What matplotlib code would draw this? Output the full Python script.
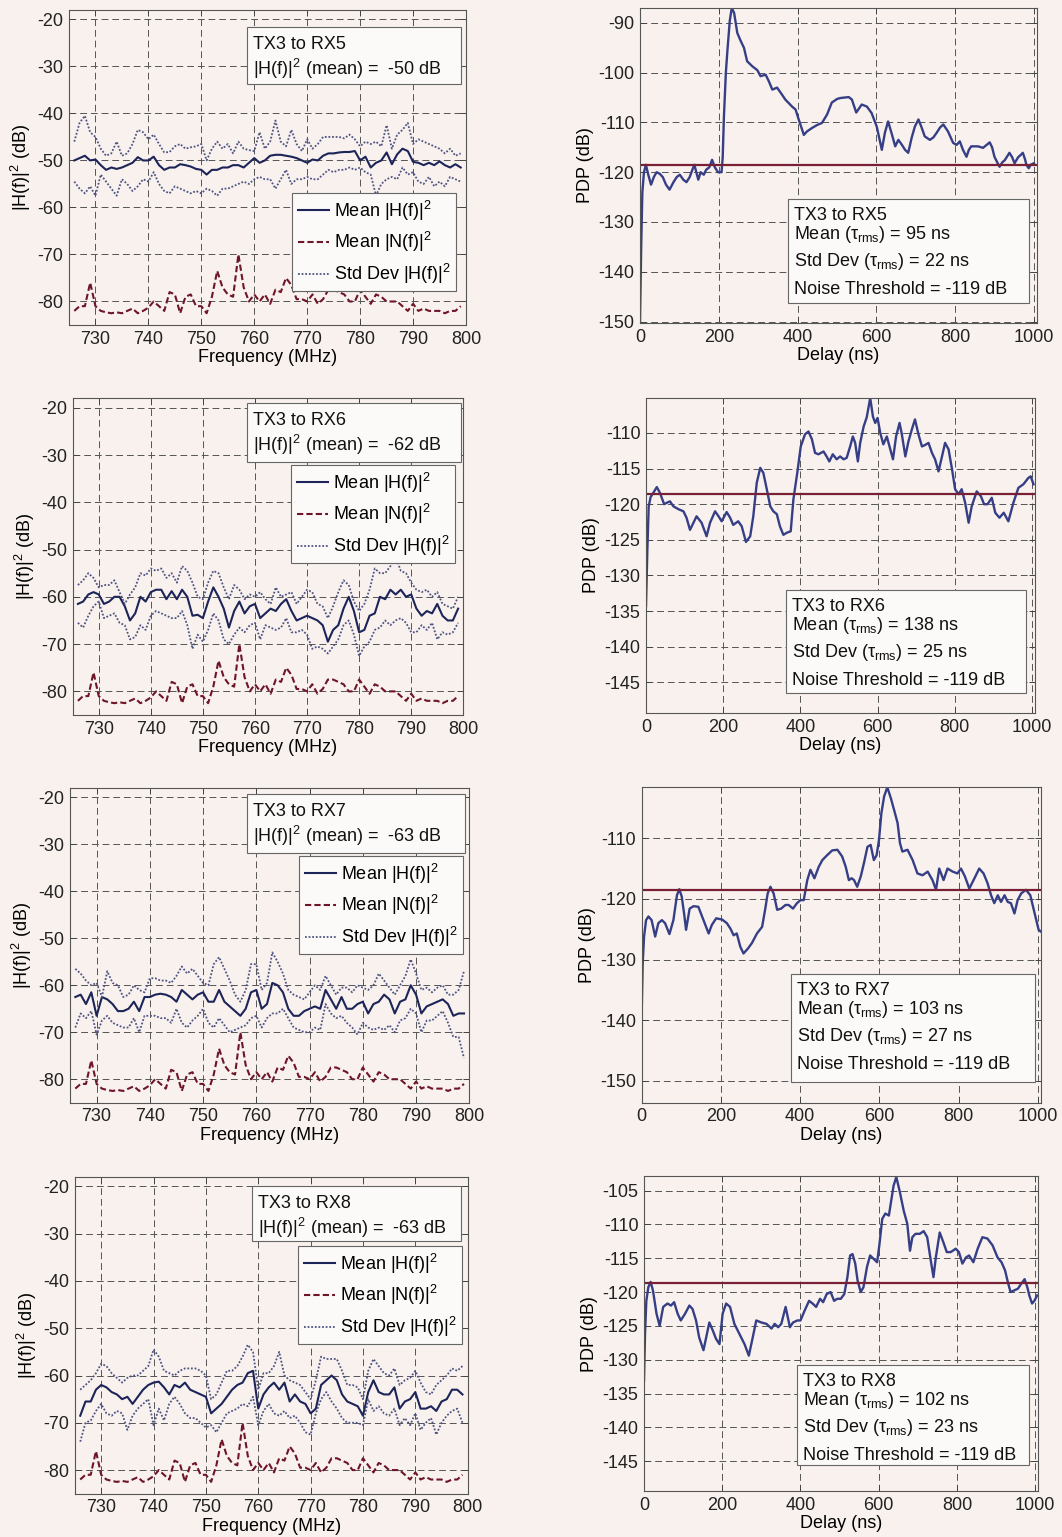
import numpy as np
import matplotlib
matplotlib.use("Agg")
import matplotlib.pyplot as plt
from matplotlib.patches import Rectangle

plt.rcParams['font.family'] = ['Liberation Sans', 'DejaVu Sans']
plt.rcParams['mathtext.fontset'] = 'custom'
plt.rcParams['mathtext.rm'] = 'Liberation Sans'
plt.rcParams['mathtext.it'] = 'Liberation Sans'
plt.rcParams['font.size'] = 13
plt.rcParams['axes.unicode_minus'] = False
plt.rcParams['lines.solid_joinstyle'] = 'round'

# ---------------- channel gain |H(f)|^2 (dB), 726..799 MHz ----------------
freq_mhz = np.arange(726, 800)

noise_db = [-82, -81, -81, -76, -81, -82, -82.3, -82.5, -82.3, -82.5,
            -82, -81.5, -82.5, -82, -81.3, -80, -81, -82, -78, -78.5,
            -82.5, -79, -78.5, -81, -81, -82.5, -79, -73.5, -77, -78.5,
            -79, -70, -77, -80, -78.5, -80, -78.5, -80.5, -77.5, -78,
            -75, -76.5, -79.5, -79.5, -80, -78.5, -80.5, -79.5, -77.5, -77.5,
            -78, -78.5, -80, -80, -77.5, -79, -80.5, -78.5, -79, -80,
            -80, -80, -81, -82, -80.5, -82, -81.5, -82, -82, -82,
            -82.5, -82, -82, -81]

rx5_mean = [-50, -49.5, -49, -50, -49.8, -51, -52, -51.5, -51.8, -51.5,
            -51, -50.5, -49.3, -50, -50, -49.2, -51, -52, -51.5, -51.5,
            -50.8, -51, -51.3, -51.8, -52, -53, -52, -52, -51.5, -51.5,
            -51, -51, -51.5, -50.5, -49.5, -50.5, -50, -49, -48.8, -48.8,
            -49, -49.2, -49.5, -50, -50.5, -49.8, -50, -49, -48.5, -48.5,
            -48.3, -48.2, -48.2, -48, -50, -49.2, -51.5, -50.5, -50, -48.3,
            -50.8, -48.7, -47.5, -48, -50.3, -50.5, -51, -50.5, -51, -50.2,
            -51, -51.5, -50.8, -51.5]
rx5_upper = [-46, -42, -40.5, -44, -45, -47.5, -49, -48.5, -46, -49,
             -48.5, -46.5, -43.5, -44, -45.5, -44.5, -46.5, -48.3, -48.2, -47,
             -46.5, -47.5, -47.2, -47, -46.5, -50, -47.5, -46, -47.5, -46.5,
             -48.5, -46, -47.5, -47.8, -48, -44, -47.5, -46, -41.5, -46,
             -47, -43.5, -46.5, -48, -45.5, -47.5, -46.5, -45, -45, -45,
             -45, -45.3, -44.5, -45.5, -47, -46, -46.5, -46, -47, -42.5,
             -47.5, -44.5, -43.5, -42, -46.5, -45.5, -46, -46.5, -47, -47.5,
             -48.5, -47.5, -49, -48.5]
rx5_lower = [-54.5, -56, -57, -55.5, -57.5, -53, -54.5, -56, -57.5, -54,
             -55, -56.5, -55.5, -54, -54.5, -52.5, -55, -56.5, -57, -55.5,
             -56, -56.5, -57, -56.5, -57, -56, -56.5, -57.5, -56, -56,
             -55.5, -55, -54.5, -55, -54, -53.5, -54, -54, -56, -54,
             -52, -55, -54, -54, -53.5, -54, -54, -53, -52, -52.5,
             -52, -52, -51.5, -52, -51.5, -52.5, -53, -57.5, -55, -54,
             -53.5, -54, -51.5, -53, -52.5, -54.5, -55, -53.5, -55.5, -54.5,
             -55.5, -53.5, -54, -54.5]

rx6_mean = [-61.5, -61, -59.5, -59, -59.5, -61.5, -61, -60, -60, -62,
            -65, -63.5, -60, -61, -59, -58.5, -58.5, -60.5, -58.8, -60.5,
            -58.5, -60, -64, -63.8, -64.5, -61, -58, -60, -62.5, -66.5,
            -63, -61, -63.5, -62, -61.5, -64.5, -63.5, -62.5, -63, -61.5,
            -60.5, -63, -65, -64.5, -64, -64.5, -65, -66, -69.5, -67,
            -66, -62.5, -60, -63, -67.5, -67, -64, -63.5, -60, -60.5,
            -58.5, -59.5, -58.5, -60, -59.5, -62.5, -64, -63, -63.5, -61.5,
            -64, -65, -65, -62.5]
rx6_upper = [-57.5, -56.5, -55, -56, -58, -57.5, -57.5, -56.5, -59, -61.5,
             -59.5, -58, -55, -55.5, -54, -54.5, -54, -56, -55, -57,
             -53.5, -54.5, -57, -60, -60.5, -57, -54.5, -55, -58, -60.5,
             -57.5, -58.5, -60.5, -59.5, -60, -59, -60.5, -61.5, -58, -60,
             -59.5, -59, -61.5, -60, -58.5, -59, -61.5, -62, -64.5, -62,
             -59, -56.5, -57.5, -61, -63, -61.5, -58.5, -54, -55, -55,
             -53.5, -51.5, -54.5, -55, -57, -58.5, -59, -58.5, -60, -59,
             -61.5, -62, -62.5, -60]
rx6_lower = [-65.5, -66.5, -64, -62, -61, -64.5, -64, -63.5, -65.5, -66,
             -69, -68.5, -66, -67, -64, -63, -63.5, -64, -64.5, -64.5,
             -63, -66, -71, -68, -69.5, -67, -63.5, -65, -69, -70,
             -68, -66.5, -67.5, -66, -65.5, -69, -66, -66.5, -67, -66.5,
             -64.5, -67.5, -67.5, -67, -68, -71, -70.5, -71, -72, -70.5,
             -69, -66, -65, -68, -72.5, -70.5, -69.5, -67, -66.5, -65,
             -66, -65, -64.5, -65.5, -67.5, -67.5, -66, -67, -65.5, -69,
             -67.5, -68, -67.5, -65.5]

rx7_mean = [-62.5, -62, -64, -61.5, -66.5, -62.5, -63, -64, -65.5, -65.5,
            -65, -63.5, -65.5, -62.5, -62.5, -62, -61.8, -62, -62.5, -63.5,
            -61, -62, -63, -62, -61.5, -63.5, -63.5, -61, -63.5, -64.5,
            -65.5, -66.5, -65, -61.5, -61, -65, -64, -59.5, -60, -61.5,
            -65, -66.5, -66.5, -65.5, -65, -64.5, -65, -61, -63, -65,
            -62.5, -65, -65, -64, -63.5, -66, -64, -63.5, -62, -63,
            -66, -63.5, -63, -60, -62, -66, -64.5, -64, -63.5, -63,
            -64, -66.5, -66, -66]
rx7_upper = [-56.5, -57.5, -59, -60, -59.5, -62.5, -57, -59.5, -60, -62.5,
             -62, -60, -61, -61.5, -58.5, -58.5, -59, -59, -59.5, -58,
             -56, -57.5, -56.5, -58, -59.5, -60, -55.5, -54, -56.5, -59,
             -62, -63.5, -61, -55.5, -55.5, -61, -59.5, -53, -55, -57.5,
             -61, -62, -62.5, -63, -61.5, -60, -61, -58, -60, -62,
             -60.5, -60.5, -61.5, -60, -60.5, -61, -60, -57.5, -59, -60.5,
             -62, -60, -58, -54.5, -57.5, -61, -60.5, -61.5, -60.5, -60,
             -62, -62, -61, -57]
rx7_lower = [-69, -66, -67, -65.5, -70.5, -67.5, -66.5, -68, -68.5, -69,
             -69, -67, -70, -66.5, -66.5, -66.5, -67, -67, -68, -65,
             -68, -69, -67.5, -66.5, -65, -68, -69, -67, -68.5, -70,
             -69.5, -69, -68.5, -67, -66.5, -69, -67, -66, -66, -65,
             -67, -69, -69.5, -70, -70, -69, -69.5, -64, -66, -67,
             -66.5, -68, -69, -70.5, -68, -69, -69.5, -69, -69.5, -68.5,
             -70, -67.5, -67, -65, -66, -70, -67.5, -67.5, -66.5, -65.5,
             -68, -71, -71, -75.5]

rx8_mean = [-68.5, -65.5, -65.5, -63, -62, -62.5, -63.5, -64, -65, -64.5,
            -66, -64.5, -63, -62, -61.5, -61.3, -62.5, -64, -62, -62.5,
            -61.5, -63, -63.5, -64, -64.5, -68, -67, -66, -64.5, -63,
            -62, -61.5, -59.5, -59, -67, -64, -62.5, -61.5, -63, -61.5,
            -65.5, -64, -65.5, -66, -68, -67, -62, -61, -60, -61,
            -64, -65.5, -66, -66.5, -68.5, -63.5, -61, -63.5, -64, -64,
            -62.5, -67, -65.5, -65, -63.5, -67, -67, -66.5, -67.5, -65.5,
            -65, -63, -63, -64]
rx8_upper = [-63, -62, -61, -59.5, -57.5, -58, -59.5, -60.5, -61.5, -60.5,
             -60, -60, -59, -58, -54.5, -56, -59, -59.5, -60, -59,
             -58.5, -58.5, -58.5, -59, -60, -65, -64, -61.5, -59, -59,
             -58, -56, -53.5, -55, -63, -59.5, -59.5, -58, -55, -60,
             -61, -61.5, -62, -63.5, -65, -61, -56, -56.5, -56.5, -56.5,
             -59, -62, -62, -62.5, -65, -59, -56.5, -58, -59.5, -60,
             -58.5, -62, -61, -60.5, -59, -61.5, -63.5, -64, -62, -61,
             -60, -58.5, -59, -58]
rx8_lower = [-74, -70, -69.5, -67.5, -66, -68, -68.5, -67.5, -68, -71.5,
             -68.5, -67, -66, -65, -70.5, -67, -69.5, -66, -64.5, -66,
             -68, -69, -69, -70, -71, -70.5, -72, -70, -68, -67.5,
             -67, -66, -66.5, -64.5, -70.5, -67.5, -66, -68, -68.5, -67.5,
             -69, -68.5, -70, -72, -72.5, -68, -65, -63.5, -65.5, -67,
             -69, -70, -70, -70, -70.5, -65, -67.5, -66.5, -68, -68.5,
             -67, -70.5, -69, -70.5, -68, -71.5, -70, -69, -72.5, -70,
             -68.5, -67.5, -67, -70]

# ---------------- power delay profiles (delay ns, dB) ----------------
rx5_delay = [0, 3, 6, 10, 15, 21, 28, 35, 42, 50, 58, 66, 75, 85, 93, 101, 110, 118, 126, 133,
             138, 143, 148, 154, 162, 168, 176, 183, 190, 198, 207, 210, 213, 218, 222, 228, 233, 239, 247, 255,
             264, 272, 285, 298, 306, 319, 327, 336, 348, 357, 369, 386, 395, 403, 416, 424, 437, 450, 462, 475,
             487, 500, 508, 530, 538, 549, 563, 576, 588, 601, 614, 622, 630, 640, 648, 656, 665, 673, 681, 690,
             698, 707, 715, 723, 736, 745, 753, 762, 770, 782, 795, 804, 812, 820, 829, 835, 841, 858, 871, 888,
             894, 900, 907, 913, 920, 926, 938, 945, 951, 960, 967, 972, 978, 981, 987, 992, 1000]
rx5_pdp = [-150, -135, -124, -120, -118.5, -120.5, -122.5, -121, -120, -120.3,
           -121, -122.5, -123.5, -122, -121, -120.5, -121.5, -122, -121, -119.5,
           -118.5, -120, -121.5, -120, -120.5, -119.5, -119, -117.5, -119, -120,
           -120, -117, -109, -100, -95.5, -89.5, -87, -88, -92, -93.5,
           -95, -97.7, -98.7, -99.5, -100.7, -100.4, -101.7, -103.4, -103, -104,
           -105.4, -106.8, -107.4, -109.4, -112.5, -111.8, -111.1, -110.5, -110.1, -108.4,
           -106, -105.3, -105.1, -104.9, -105.4, -108, -106.4, -106.8, -108.1, -110.8,
           -115.5, -112, -109.8, -112.5, -114.8, -113.5, -114.5, -115.5, -116.1, -113,
           -110.8, -109.4, -111, -112.8, -113.5, -113, -112.1, -111, -110.4, -111.8,
           -114.1, -114.5, -113.8, -115.5, -116.9, -115.5, -114.8, -114.8, -115.1, -114,
           -115, -116.9, -118, -118.9, -118, -117.6, -116.1, -117, -118.2, -117,
           -116.5, -116.1, -117.5, -118.5, -119.2, -118.5, -118.2]

rx6_delay = [0, 3.5, 7, 12, 19, 28, 36, 47, 54, 62, 71, 84, 97, 105, 114, 123, 131, 144, 157, 166,
             179, 188, 196, 209, 218, 226, 239, 248, 259, 270, 278, 287, 296, 304, 313, 322, 330, 339, 347, 356,
             365, 375, 382, 392, 401, 412, 421, 430, 438, 447, 460, 468, 475, 484, 494, 503, 512, 520, 529, 536,
             542, 549, 555, 564, 572, 581, 588, 594, 600, 607, 615, 624, 633, 640, 648, 657, 663, 672, 680, 689,
             697, 706, 715, 723, 732, 741, 749, 758, 767, 775, 784, 793, 801, 810, 818, 827, 836, 844, 857, 868,
             876, 885, 896, 905, 916, 927, 939, 952, 965, 978, 991, 997, 1004]
rx6_pdp = [-134.3, -126.4, -120.3, -119, -118.4, -117.6, -118.4, -120, -119.8, -119.6,
           -120.3, -120.7, -121, -121.9, -123.6, -122.6, -121.7, -122.6, -124.5, -122.6,
           -121, -121.7, -122.4, -121.1, -121.9, -122.9, -122.4, -123.1, -125.3, -124.5,
           -121.7, -117, -114.9, -115.6, -117.9, -120.3, -121, -121.4, -123.1, -124.3,
           -124, -123.8, -119.3, -115.6, -111.9, -110.2, -109.8, -110.9, -112.8, -113,
           -112.6, -113.3, -114, -113, -113.7, -113.3, -113.7, -113.5, -111.9, -110.5,
           -111.4, -114, -111.4, -109.1, -107.8, -105.1, -107.7, -108.6, -107.9, -110,
           -111.6, -110.5, -112.3, -113.7, -110.5, -108.6, -110.2, -113.3, -111.2, -109.5,
           -108.1, -110.2, -111.9, -111.7, -111.4, -112.8, -113.7, -115.4, -113.3, -111.4,
           -112.3, -115.1, -117.9, -118.6, -117.9, -119.8, -122.6, -120.3, -118.2, -118.9,
           -120, -120, -119.1, -121.2, -121.9, -121.2, -122.4, -119.8, -117.7, -117.2,
           -116.3, -116.1, -117.2]

rx7_delay = [0, 2.5, 6, 11, 17, 25, 34, 42, 51, 59, 70, 80, 89, 95, 101, 107, 112, 121, 131, 143,
             156, 169, 177, 188, 203, 215, 224, 232, 240, 249, 257, 268, 278, 291, 304, 312, 318, 325, 333, 342,
             352, 363, 371, 382, 392, 401, 409, 418, 426, 436, 447, 456, 468, 481, 494, 506, 515, 523, 530, 536,
             544, 553, 561, 570, 578, 586, 593, 599, 605, 612, 620, 629, 637, 646, 652, 658, 671, 684, 696, 709,
             722, 734, 743, 751, 762, 772, 785, 797, 806, 816, 827, 840, 852, 863, 873, 882, 890, 899, 907, 916,
             924, 932, 941, 949, 958, 970, 981, 992, 1002, 1008]
rx7_pdp = [-138.9, -130.6, -126.2, -123.5, -122.9, -123.5, -126.2, -124, -123.5, -124,
           -125.8, -123.5, -119.4, -118.4, -119.6, -122.4, -125.1, -121.6, -121.2, -121.3,
           -123.5, -125.7, -124.3, -123.2, -123.4, -124, -124.9, -126, -125.7, -127.9,
           -129, -128.2, -127.3, -125.7, -124.6, -121.6, -119.1, -118, -119.1, -121.8,
           -121.6, -121, -121, -121.6, -120.7, -120.2, -120.2, -116.9, -115.2, -116.6,
           -114.7, -113.6, -112.8, -112, -111.9, -113, -114.7, -116.9, -116.6, -116.9,
           -118, -116.3, -114.1, -111.4, -111.1, -113.6, -112.8, -110.3, -105.9, -103.1,
           -101.6, -103.4, -105.3, -107.5, -110.8, -112.2, -111.9, -113.6, -115.8, -116.1,
           -115.5, -116.9, -118.5, -115, -116.9, -115, -115.5, -115.8, -115, -116.3,
           -118.3, -116.6, -115, -115.8, -117.4, -119.4, -120.7, -119.4, -120.5, -119.4,
           -120.5, -120.7, -122.4, -120.2, -119.1, -118.5, -119.4, -122.4, -125.1, -125.4]

rx8_delay = [0, 2.6, 6, 11, 17, 23, 32, 40, 49, 60, 69, 77, 86, 94, 105, 116, 124, 133, 141, 152,
             159, 167, 176, 184, 193, 201, 210, 220, 231, 244, 257, 268, 278, 287, 300, 313, 326, 334, 343, 351,
             362, 373, 381, 392, 400, 411, 422, 431, 440, 450, 458, 467, 477, 486, 494, 503, 512, 520, 527, 533,
             540, 546, 554, 561, 570, 578, 587, 596, 602, 609, 617, 626, 632, 638, 645, 654, 664, 673, 680, 686,
             694, 705, 715, 724, 733, 740, 746, 756, 765, 774, 784, 797, 805, 814, 823, 831, 842, 853, 865, 878,
             891, 904, 914, 923, 930, 937, 945, 956, 964, 973, 980, 985, 992, 998, 1005]
rx8_pdp = [-133.1, -126.2, -121.3, -119.3, -118.5, -119.8, -123.2, -125, -122.2, -121.7,
           -122, -121.5, -123.2, -124.2, -123.2, -122, -122.5, -124.2, -126.7, -128.6,
           -126.7, -124.5, -125.7, -126.9, -127.7, -123.2, -121.7, -122.2, -124.7, -126.2,
           -127.7, -129.4, -126.7, -124.2, -124.5, -124.7, -125.4, -124.7, -125.2, -124.7,
           -122.2, -125.2, -124.5, -124.2, -124.2, -122.7, -121.3, -121.7, -122.2, -121,
           -121.5, -120.3, -120, -121.3, -121, -121, -120.3, -117.8, -114.6, -114.4,
           -115.8, -118.3, -120, -119.3, -116.3, -114.6, -115.1, -115.6, -112.9, -109.2,
           -108.4, -108.7, -106.5, -104.3, -103, -105.2, -108, -109.9, -113.9, -111.9,
           -111.4, -111.4, -111, -111.9, -115.3, -117.8, -114.9, -111.2, -112.6, -114.1,
           -114.1, -113.6, -114.1, -115.8, -114.9, -114.6, -115.6, -113.6, -111.9, -112.1,
           -113.1, -114.9, -115.6, -116.8, -118.5, -120, -119.8, -119.5, -118.8, -118.1,
           -119.3, -120.5, -121.7, -121.3, -120.5]

links = ["TX3 to RX5", "TX3 to RX6", "TX3 to RX7", "TX3 to RX8"]
gain_mean_label = [-50, -62, -63, -63]
tau_mean_ns = [95, 138, 103, 102]
tau_std_ns = [22, 25, 27, 23]
noise_threshold = -118.6

gain_series = [(rx5_mean, rx5_upper, rx5_lower), (rx6_mean, rx6_upper, rx6_lower),
               (rx7_mean, rx7_upper, rx7_lower), (rx8_mean, rx8_upper, rx8_lower)]
pdp_series = [(rx5_delay, rx5_pdp), (rx6_delay, rx6_pdp), (rx7_delay, rx7_pdp), (rx8_delay, rx8_pdp)]
pdp_ylim = [(-150.3, -87.0), (-149.3, -105.1), (-153.6, -101.6), (-149.4, -102.9)]
pdp_yticks = [np.arange(-150, -89, 10), np.arange(-145, -109, 5),
              np.arange(-150, -109, 10), np.arange(-145, -104, 5)]

# ---------------- layout (figure pixels: left, top, right, bottom) ----------------
W, H = 1062, 1537
left_rects = [(69, 10, 466, 325), (72.7, 398.3, 463.3, 715),
              (70, 788, 469.3, 1102.7), (75, 1177, 467.7, 1493.7)]
right_rects = [(640, 8, 1037, 323), (646, 398, 1035, 713),
               (641.7, 787.3, 1041, 1102.7), (644, 1176.3, 1038.3, 1491)]
left_boxes = [(247, 27, 461, 84), (247, 403, 461, 462),
              (247, 794, 465, 853), (252, 1186, 461, 1241)]
left_legends = [(456, 193), (455, 465), (463, 856), (462, 1246)]
right_boxes = [(788, 199, 1029, 303), (786, 590, 1026, 693),
               (791, 974, 1035, 1082), (797, 1365, 1029, 1465)]

BG = '#f8f1ee'
BOX_FC = '#fcfaf9'
C_MEAN = '#1c2458'
C_NOISE = '#6e1628'
C_STD = '#4e5482'
C_PDP = '#363f86'
C_THR = '#7a2035'

fig = plt.figure(figsize=(W / 100, H / 100), dpi=100, facecolor=BG)


def place(rect):
    l, t, r, b = rect
    ax = fig.add_axes([l / W, 1 - b / H, (r - l) / W, (b - t) / H])
    ax.set_facecolor(BG)
    ax.grid(True, color='#555555', linestyle=(0, (7, 4)), linewidth=0.7)
    ax.set_axisbelow(True)
    ax.tick_params(direction='in', top=True, right=True, length=4, width=0.7,
                   color='#444444', labelcolor='#222222', pad=4)
    for s in ax.spines.values():
        s.set_color('#555555')
        s.set_linewidth(0.8)
    return ax


def ax_xy(rect, x, y):
    l, t, r, b = rect
    return (x - l) / (r - l), (b - y) / (b - t)


def info_box(ax, rect, box, lines, baselines):
    x0, y0 = ax_xy(rect, box[0], box[3])
    x1, y1 = ax_xy(rect, box[2], box[1])
    ax.add_patch(Rectangle((x0, y0), x1 - x0, y1 - y0, transform=ax.transAxes,
                           fc=BOX_FC, ec='#666666', lw=0.8, zorder=5))
    for line, off in zip(lines, baselines):
        tx, ty = ax_xy(rect, box[0] + 6, box[1] + off)
        ax.text(tx, ty, line, transform=ax.transAxes, ha='left', va='baseline',
                color='#111111', zorder=6)


for i in range(4):
    # channel gain vs frequency
    rect = left_rects[i]
    ax = place(rect)
    mean, upper, lower = gain_series[i]
    ax.plot(freq_mhz, mean, color=C_MEAN, lw=1.5, label='Mean |H(f)|$^2$')
    ax.plot(freq_mhz, noise_db, color=C_NOISE, lw=1.5, linestyle=(0, (3, 1.5)),
            label='Mean |N(f)|$^2$')
    ax.plot(freq_mhz, upper, color=C_STD, lw=1.3, linestyle=(0, (1, 1)),
            label='Std Dev |H(f)|$^2$')
    ax.plot(freq_mhz, lower, color=C_STD, lw=1.3, linestyle=(0, (1, 1)))
    ax.set_xlim(725, 800)
    ax.set_ylim(-85, -18)
    ax.set_xticks(np.arange(730, 801, 10))
    ax.set_yticks(np.arange(-80, -19, 10))
    ax.set_xlabel('Frequency (MHz)', labelpad=1)
    ax.set_ylabel('|H(f)|$^2$ (dB)', labelpad=3)
    info_box(ax, rect, left_boxes[i],
             [links[i], f'|H(f)|$^2$ (mean) =  {gain_mean_label[i]} dB'], [22, 48])
    leg = ax.legend(loc='upper right', bbox_to_anchor=ax_xy(rect, *left_legends[i]),
                    borderaxespad=0, fancybox=False, framealpha=1, facecolor=BOX_FC,
                    edgecolor='#666666', handlelength=1.75, handletextpad=0.25,
                    labelspacing=0.42, borderpad=0.3)
    leg.get_frame().set_linewidth(0.8)
    leg.set_zorder(7)

    # power delay profile
    rect = right_rects[i]
    ax = place(rect)
    delay, pdp = pdp_series[i]
    ax.plot(delay, pdp, color=C_PDP, lw=1.7)
    ax.axhline(noise_threshold, color=C_THR, lw=1.6)
    ax.set_xlim(0, 1008)
    ax.set_ylim(*pdp_ylim[i])
    ax.set_xticks(np.arange(0, 1001, 200))
    ax.set_yticks(pdp_yticks[i])
    ax.set_xlabel('Delay (ns)', labelpad=1)
    ax.set_ylabel('PDP (dB)', labelpad=3)
    info_box(ax, rect, right_boxes[i],
             [links[i],
              r'Mean ($\tau_{\mathrm{rms}}$) = ' + f'{tau_mean_ns[i]} ns',
              r'Std Dev ($\tau_{\mathrm{rms}}$) = ' + f'{tau_std_ns[i]} ns',
              f'Noise Threshold = {noise_threshold:.0f} dB'],
             [21, 40, 67, 95])

fig.savefig('out.png', dpi=100, facecolor=BG)
